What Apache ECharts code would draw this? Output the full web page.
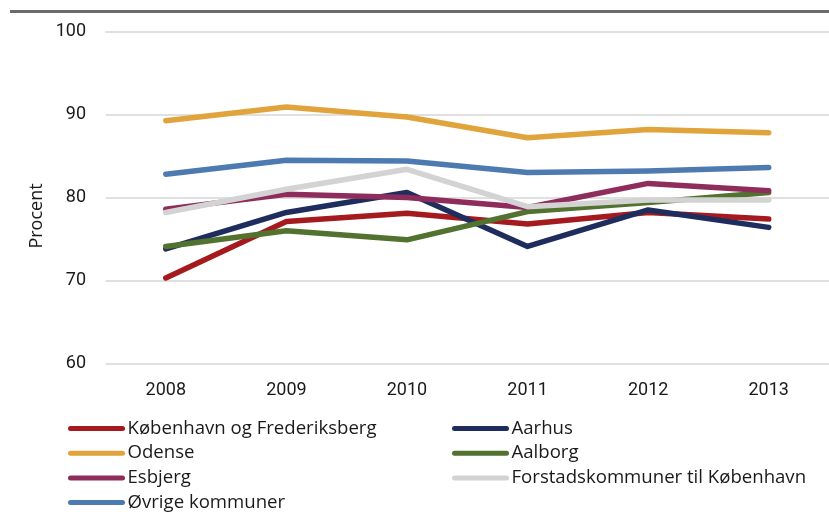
<!DOCTYPE html>
<html>
<head>
<meta charset="utf-8">
<script src="https://cdn.jsdelivr.net/npm/echarts@6/dist/echarts.min.js"></script>
<style>html,body{margin:0;padding:0;background:#fff}#c{width:829px;height:514px}</style>
</head>
<body>
<div id="c"></div>
<script>
const years = ['2008', '2009', '2010', '2011', '2012', '2013'];
const yTicks = [60, 70, 80, 90, 100];
const yAxisName = 'Procent';

const names = ['København og Frederiksberg', 'Aarhus', 'Odense', 'Aalborg', 'Esbjerg', 'Forstadskommuner til København', 'Øvrige kommuner'];
const kobenhavn = [70.3, 77.1, 78.1, 76.8, 78.2, 77.4];
const aarhus = [73.8, 78.2, 80.6, 74.1, 78.5, 76.4];
const odense = [89.25, 90.9, 89.7, 87.2, 88.2, 87.8];
const aalborg = [74.1, 76.0, 74.9, 78.3, 79.4, 80.6];
const esbjerg = [78.6, 80.4, 80.0, 78.8, 81.7, 80.8];
const forstads = [78.2, 81.0, 83.4, 78.9, 79.7, 79.7];
const ovrige = [82.8, 84.5, 84.4, 83.0, 83.2, 83.6];

const values = [kobenhavn, aarhus, odense, aalborg, esbjerg, forstads, ovrige];
const colors = ['#A51A1F', '#1E2D5E', '#E1A33B', '#52722F', '#8E2D5B', '#D3D3D3', '#4E7AB2'];

const FONT = 'Roboto';
const LFONT = 'Open Sans';
const chart = echarts.init(document.getElementById('c'), null, {renderer: 'canvas'});

const series = names.map((n, i) => ({
  name: n,
  type: 'line',
  data: values[i],
  symbol: 'none',
  smooth: false,
  lineStyle: {width: 5.5, color: colors[i], cap: 'round', join: 'round'},
  itemStyle: {color: colors[i]},
  emphasis: {disabled: true},
  z: 2 + i
}));

const legendBase = {
  orient: 'vertical',
  itemWidth: 52,
  itemHeight: 10,
  itemGap: 4.7,
  padding: 0,
  top: 418.5,
  selectedMode: false,
  textStyle: {fontFamily: LFONT, fontSize: 18.6, color: '#1a1a1a', lineHeight: 20},
  lineStyle: {width: 5, cap: 'round'},
  itemStyle: {opacity: 0}
};

chart.setOption({
  animation: false,
  backgroundColor: '#ffffff',
  textStyle: {fontFamily: FONT},
  graphic: [
    {type: 'rect', shape: {x: 10, y: 10, width: 819, height: 3}, style: {fill: '#6b6b6b'}},
    {type: 'text', x: 37, y: 216, rotation: Math.PI / 2,
     style: {text: yAxisName, font: '18px ' + LFONT, fill: '#1a1a1a', align: 'center', verticalAlign: 'middle'}}
  ],
  grid: {left: 105.5, top: 31.5, width: 726, height: 332, containLabel: false},
  xAxis: {
    type: 'category',
    data: years,
    boundaryGap: true,
    axisLine: {show: false},
    axisTick: {show: false},
    axisLabel: {fontFamily: FONT, fontSize: 18, color: '#1a1a1a', margin: 17.5}
  },
  yAxis: {
    type: 'value',
    min: yTicks[0],
    max: yTicks[yTicks.length - 1],
    interval: 10,
    axisLine: {show: false},
    axisTick: {show: false},
    axisLabel: {fontFamily: FONT, fontSize: 18, color: '#1a1a1a', margin: 19.5},
    splitLine: {lineStyle: {color: '#d6d6d6', width: 1.5}}
  },
  legend: [
    Object.assign({}, legendBase, {left: 68, data: [names[0], names[2], names[4], names[6]]}),
    Object.assign({}, legendBase, {left: 452, data: [names[1], names[3], names[5]]})
  ],
  series: series
});
</script>
</body>
</html>
